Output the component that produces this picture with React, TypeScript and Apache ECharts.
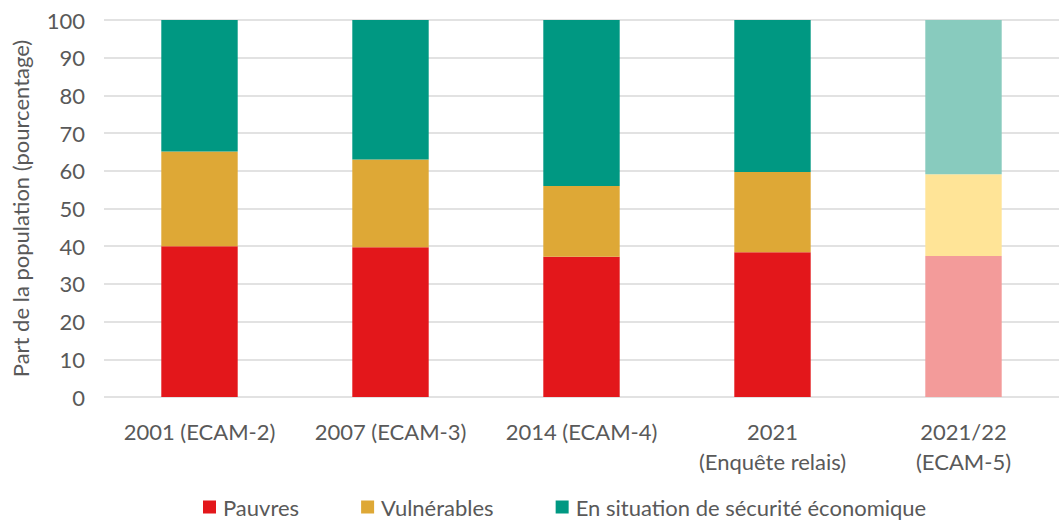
import React, { useEffect, useRef } from "react";
import * as echarts from "echarts";

const categories = ["2001 (ECAM-2)", "2007 (ECAM-3)", "2014 (ECAM-4)", "2021\n(Enquête relais)", "2021/22\n(ECAM-5)"];
const pauvres = [40.0, 39.7, 37.2, 38.4, 37.4];
const vulnerables = [25.1, 23.3, 18.8, 21.3, 21.7];
const securite = [34.9, 37.0, 44.0, 40.3, 40.9];
const yTicks = [0, 10, 20, 30, 40, 50, 60, 70, 80, 90, 100];

const seriesNames = ["Pauvres", "Vulnérables", "En situation de sécurité économique"];
const colors = ["#E3171B", "#DEA836", "#009882"];
const lightColors = ["#F39B9A", "#FFE497", "#88CBBE"];
const FONT = "Lato, 'Open Sans', sans-serif";
const TXT = "#595959";

export default function App() {
  const ref = useRef<HTMLDivElement>(null);
  useEffect(() => {
    const chart = echarts.init(ref.current!, null, { renderer: "svg" });
    const datasets = [pauvres, vulnerables, securite];
    chart.setOption({
      animation: false,
      textStyle: { fontFamily: FONT },
      grid: { left: 104, right: -7, top: 20, bottom: 124, containLabel: false },
      legend: {
        top: 496,
        left: 203,
        padding: 0,
        itemWidth: 13,
        itemHeight: 13,
        itemGap: 62,
        icon: "rect",
        textStyle: { fontFamily: FONT, fontSize: 22, lineHeight: 22, color: TXT, padding: [0, 0, 0, 2] },
        data: seriesNames,
      },
      xAxis: {
        type: "category",
        data: categories,
        axisLine: { show: false },
        axisTick: { show: false },
        axisLabel: { fontFamily: FONT, fontSize: 22, color: TXT, margin: 19, lineHeight: 30, interval: 0 },
      },
      yAxis: {
        type: "value",
        min: 0,
        max: 100,
        interval: 10,
        name: "Part de la population (pourcentage)",
        nameLocation: "middle",
        nameGap: 73,
        nameRotate: 90,
        nameTextStyle: { fontFamily: FONT, fontSize: 22, color: TXT },
        axisLabel: {
          fontFamily: FONT, fontSize: 22, color: TXT, margin: 19,
          formatter: (v: number) => (yTicks.includes(v) ? String(v) : ""),
        },
        splitLine: { lineStyle: { color: "#D9D9D9", width: 1.5 } },
      },
      series: datasets.map((d, si) => ({
        name: seriesNames[si],
        type: "bar",
        stack: "total",
        barWidth: "40%",
        itemStyle: { color: colors[si] },
        data: d.map((v, i) => (i === d.length - 1 ? { value: v, itemStyle: { color: lightColors[si] } } : v)),
      })),
    });
    return () => chart.dispose();
  }, []);
  return <div ref={ref} style={{ position: "absolute", left: 0, top: 0, width: 1059, height: 521 }} />;
}
